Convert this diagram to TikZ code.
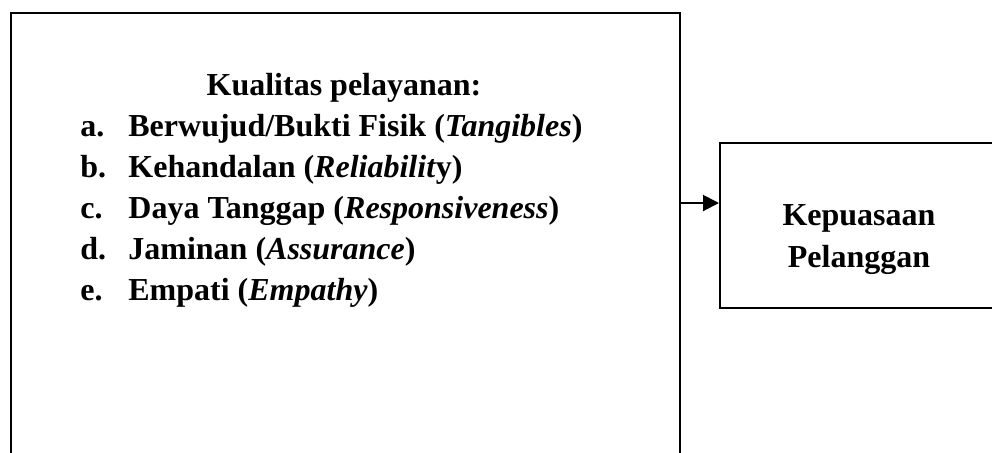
\documentclass[tikz,border=0pt]{standalone}
\usepackage{fontspec}
\setmainfont{Liberation Serif}
\usetikzlibrary{arrows.meta}
\begin{document}
\begin{tikzpicture}[x=0.5pt,y=-0.5pt,
  boxline/.style={draw=black,line width=1pt,inner sep=0pt,fill=none},
  txt/.style={inner sep=0pt,font=\fontsize{16}{19}\selectfont\bfseries},
  arr/.style={line width=1pt,-{Triangle[length=8pt,width=8pt]}}]
\useasboundingbox (0,0) rectangle (992,452);
\clip (0,0) rectangle (992,452);
\fill[white] (0,0) rectangle (992,452);
\node[boxline,minimum width=334.5pt,minimum height=240pt] (lbox) at (345.5,253) {};
\node[boxline,minimum width=139pt,minimum height=82.5pt] (rbox) at (859,225.5) {};
\coordinate (ay) at (0,203);
\draw[arr] (lbox.east |- ay) -- (rbox.west |- ay);
\node[txt,anchor=base] (title) at (344,95) {Kualitas pelayanan:};
\node[txt,anchor=base west] (la) at (80,136) {a.};
\node[txt,anchor=base west] (ta) at (128,136) {Berwujud/Bukti Fisik (\textit{Tangibles})};
\node[txt,anchor=base west] (lb) at (80,177) {b.};
\node[txt,anchor=base west] (tb) at (128,177) {Kehandalan (\textit{Reliabilit}y)};
\node[txt,anchor=base west] (lc) at (80,218) {c.};
\node[txt,anchor=base west] (tc) at (128,218) {Daya Tanggap (\textit{Responsiveness})};
\node[txt,anchor=base west] (ld) at (80,259) {d.};
\node[txt,anchor=base west] (td) at (128,259) {Jaminan (\textit{Assurance})};
\node[txt,anchor=base west] (le) at (80,300) {e.};
\node[txt,anchor=base west] (te) at (128,300) {Empati (\textit{Empathy})};
\node[txt,anchor=base] (k1) at (859,225) {Kepuasaan};
\node[txt,anchor=base] (k2) at (859,267) {Pelanggan};
\end{tikzpicture}
\end{document}
